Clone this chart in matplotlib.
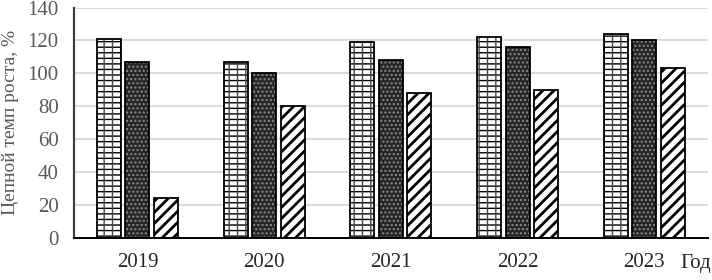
import numpy as np
import matplotlib.pyplot as plt

plt.rcParams['font.family'] = ['Liberation Serif', 'DejaVu Serif']
plt.rcParams['hatch.linewidth'] = 1.0

years = ['2019', '2020', '2021', '2022', '2023']
s1 = [121, 107, 119, 122, 124]
s2 = [107, 100, 108, 116, 120]
s3 = [24, 80, 88, 90, 103]

x = np.arange(len(years))
w = 0.19
step = 0.225

fig = plt.figure(figsize=(7.12, 2.8), dpi=100)
ax = fig.add_axes([0.104, 0.15, 0.89, 0.823])

# кирпич: горизонтальные линии чаще, вертикальные реже
ax.bar(x - step, s1, w, color='white', edgecolor='black', hatch='---', linewidth=0, zorder=2)
ax.bar(x - step, s1, w, fill=False, edgecolor='#444444', hatch='||', linewidth=0, zorder=2)
ax.bar(x - step, s1, w, fill=False, edgecolor='black', linewidth=1.3, zorder=3)
# тёмная сетка
ax.bar(x, s2, w, color='#262626', edgecolor='#8a8a8a', hatch='....', linewidth=0, zorder=2)
ax.bar(x, s2, w, fill=False, edgecolor='black', linewidth=1.3, zorder=3)
# штриховка
plt.rcParams['hatch.linewidth'] = 2.0
ax.bar(x + step, s3, w, color='white', edgecolor='black', hatch='///', linewidth=0, zorder=2)
ax.bar(x + step, s3, w, fill=False, edgecolor='black', linewidth=1.3, zorder=3)

ax.set_xlim(-0.5, 4.5)
ax.set_ylim(0, 140)
ax.set_yticks(range(0, 141, 20))
ax.set_xticks(x)
ax.set_xticklabels(years)
ax.yaxis.grid(True, color='#d4d4d4', linewidth=1.2)
ax.set_axisbelow(True)
ax.tick_params(axis='both', length=0, labelsize=15, pad=11)
ax.tick_params(axis='y', labelcolor='#595959')
ax.tick_params(axis='x', labelcolor='#262626')

for s in ['top', 'right']:
    ax.spines[s].set_visible(False)
ax.spines['left'].set_color('#404040')
ax.spines['left'].set_linewidth(1.6)
ax.spines['bottom'].set_color('black')
ax.spines['bottom'].set_linewidth(1.4)

ax.set_ylabel('Цепной темп роста, %', fontsize=14, color='#595959', labelpad=6)
fig.text(0.955, 0.06, 'Год', fontsize=15, color='#262626', ha='left', va='center')

fig.savefig('out.png', dpi=100)
